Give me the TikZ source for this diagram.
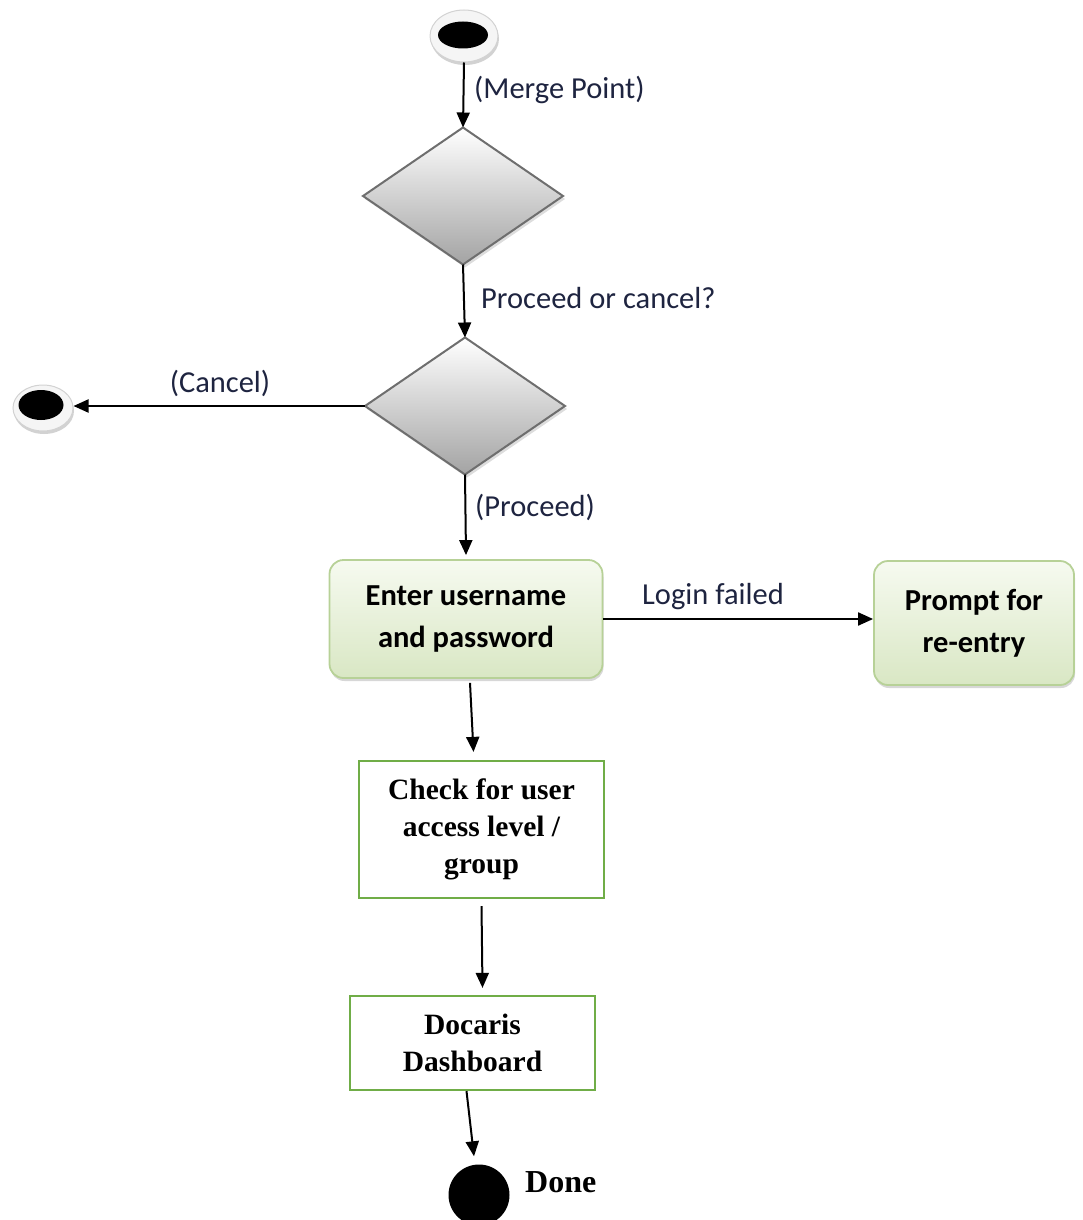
\documentclass[tikz,border=0pt]{standalone}
\usepackage{fontspec}
\setmainfont{Carlito}
\newfontfamily\tnr{Liberation Serif}
\usetikzlibrary{shapes.geometric,arrows.meta,shadows}
\definecolor{labelcol}{HTML}{1E2440}
\definecolor{diaborder}{HTML}{6E6E6E}
\definecolor{boxtop}{HTML}{F6FAF0}
\definecolor{boxbot}{HTML}{D9E7C4}
\definecolor{boxborder}{HTML}{B7D197}
\definecolor{greenline}{HTML}{70AD47}
\begin{document}
\begin{tikzpicture}[x=1pt,y=-1pt,
  flow/.style={draw=black, line width=2pt, -{Triangle[length=15pt,width=13pt]}},
  lbl/.style={text=labelcol, font=\fontsize{30.5}{36}\selectfont, inner sep=0pt},
  decision/.style={diamond, draw=diaborder, line width=2pt, inner sep=0pt, outer sep=0pt,
    minimum width=200pt, minimum height=137pt, aspect=1.46,
    top color=white, bottom color=gray!72,
    drop shadow={shadow xshift=2pt, shadow yshift=-3pt, fill=gray!45, opacity=0.6}},
  rim/.style={ellipse, draw=gray!35, line width=1pt, fill=gray!8, inner sep=0pt,
    drop shadow={shadow xshift=1pt, shadow yshift=-3pt, fill=gray!50, opacity=0.7}},
  dot/.style={ellipse, fill=black, inner sep=0pt},
  activity/.style={rectangle, rounded corners=14pt, draw=boxborder, line width=1.8pt,
    top color=boxtop, bottom color=boxbot, align=center, inner sep=0pt,
    font=\bfseries\fontsize{30.5}{42}\selectfont,
    drop shadow={shadow xshift=1pt, shadow yshift=-3pt, fill=gray!45, opacity=0.7}},
  plainbox/.style={rectangle, draw=greenline, line width=2.2pt, fill=white, align=center,
    inner sep=0pt, font=\tnr\bfseries\fontsize{29.5}{37}\selectfont}
]
\useasboundingbox (0,0) rectangle (1083,1220);

% initial node
\node[rim, minimum width=68pt, minimum height=52pt] (start) at (464,36) {};
\node[dot, minimum width=50pt, minimum height=27pt] (startdot) at (463,35) {};

% decisions
\node[decision] (merge) at (463,196) {};
\node[decision] (choice) at (465,406) {};

% cancel end node
\node[rim, minimum width=60pt, minimum height=46pt] (cancelend) at (43,408) {};
\node[dot, minimum width=45pt, minimum height=30pt] (canceldot) at (41,405) {};

% activities
\node[activity, minimum width=273pt, minimum height=118pt] (enter) at (466,619)
  {Enter username\\and password};
\node[activity, minimum width=200pt, minimum height=124pt] (prompt) at (974,623)
  {Prompt for\\re-entry};
\node[plainbox, minimum width=245pt, minimum height=137pt] (check) at (481.5,829.5)
  {Check for user\\access level /\\group};
\node[plainbox, minimum width=245pt, minimum height=94pt] (dash) at (472.5,1043)
  {Docaris\\Dashboard};

% final node
\node[circle, fill=black, minimum size=61pt, inner sep=0pt] (done) at (479,1195) {};
\node[anchor=west, inner sep=0pt, font=\tnr\bfseries\fontsize{32}{38}\selectfont]
  (donelbl) at (525,1182) {Done};

% connectors
\draw[flow] (start.south) -- (merge.north);
\draw[flow] (merge.south) -- (choice.north);
\draw[flow] (choice.west) -- (choice.west -| cancelend.east);
\draw[flow] (choice.south) -- ([yshift=4pt]enter.north);
\draw[flow] (enter.east) -- (enter.east -| prompt.west);
\draw[flow] ([xshift=4pt,yshift=-4pt]enter.south) -- ([xshift=-8pt,yshift=8pt]check.north);
\draw[flow] ([yshift=-7pt]check.south) -- ([xshift=10pt,yshift=7pt]dash.north);
\draw[flow] ([xshift=-6pt]dash.south) -- ([xshift=-5pt,yshift=8pt]done.north);

% connector labels
\node[lbl, anchor=west] (lmerge) at (474,90) {(Merge Point)};
\node[lbl, anchor=west] (lask) at (481,298) {Proceed or cancel?};
\node[lbl] (lcancel) at (220,383) {(Cancel)};
\node[lbl, anchor=west] (lproceed) at (475,507) {(Proceed)};
\node[lbl] (lfail) at (713,597) {Login failed};
\end{tikzpicture}
\end{document}
